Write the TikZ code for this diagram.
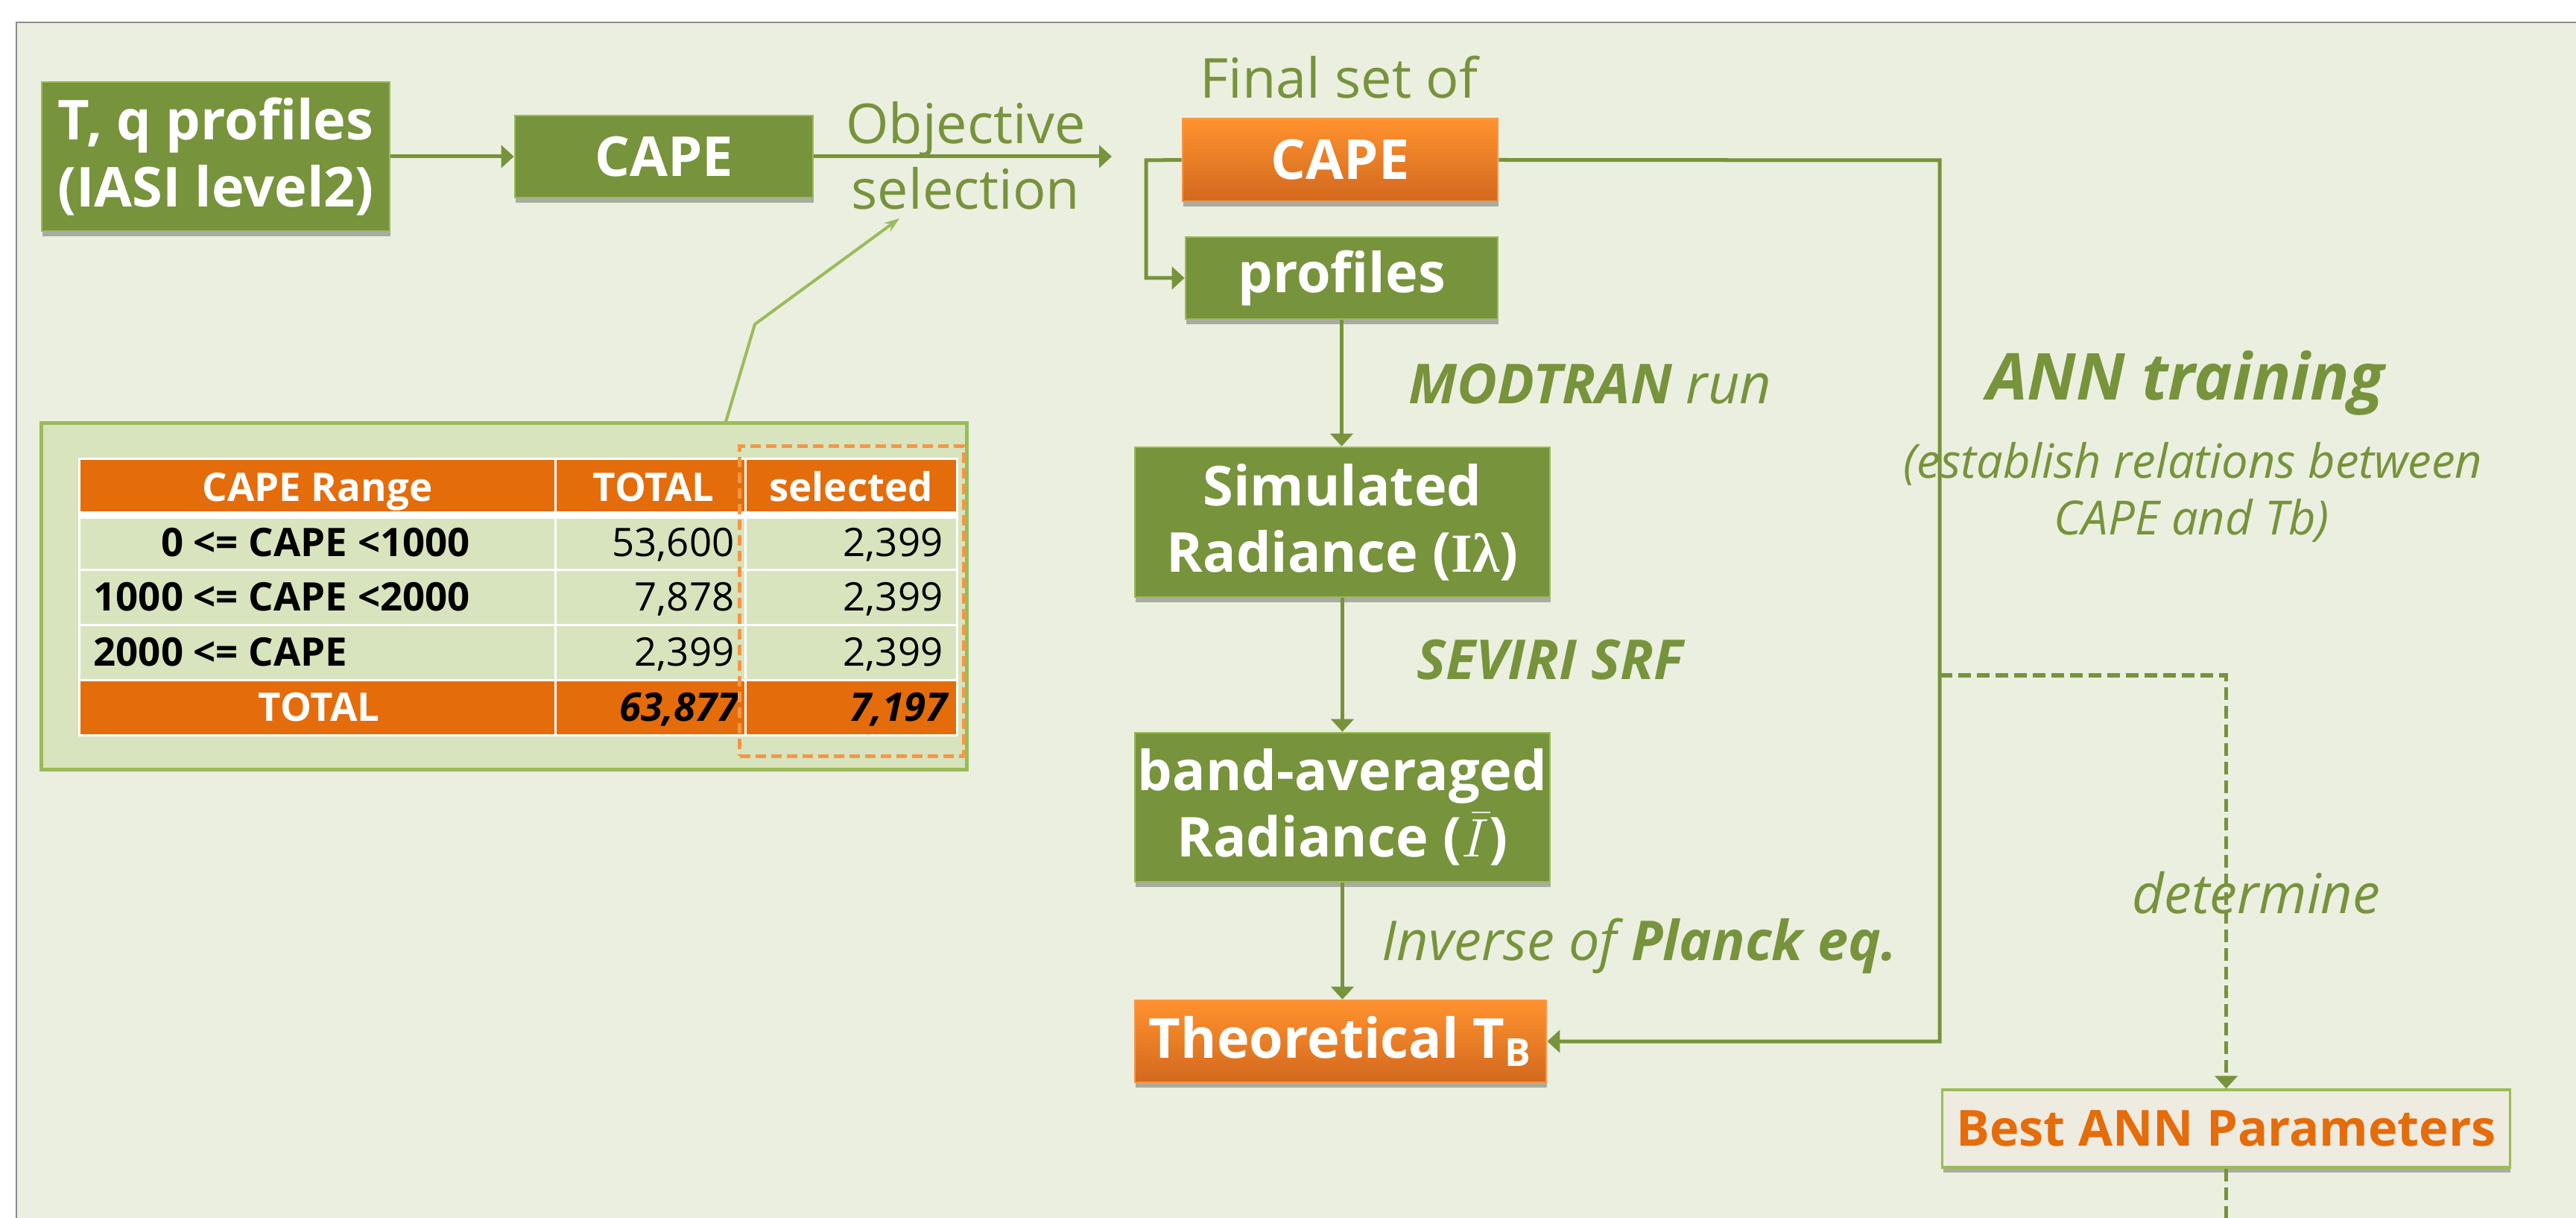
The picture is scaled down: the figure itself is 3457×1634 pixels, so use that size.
\documentclass[tikz,border=0pt]{standalone}
\usepackage{fontspec}
\setmainfont{Open Sans}
\newfontfamily\serifsym{Liberation Serif}
\usetikzlibrary{arrows.meta,shadows,calc}
\definecolor{bgc}{HTML}{EBEFDF}
\definecolor{olive}{HTML}{77933C}
\definecolor{oliveedge}{HTML}{9BBB59}
\definecolor{panelc}{HTML}{D7E4BD}
\definecolor{tblorange}{HTML}{E46C0A}
\definecolor{orangetop}{HTML}{FF922E}
\definecolor{orangebot}{HTML}{D2691E}
\definecolor{orangeedge}{HTML}{F79646}
\definecolor{beige}{HTML}{EEEBE0}
\definecolor{framegray}{HTML}{8C8C8C}
\begin{document}
\begin{tikzpicture}[x=0.01cm,y=-0.01cm,
  boxshadow/.style={drop shadow={shadow xshift=0.01cm,shadow yshift=-0.07cm,opacity=0.28,fill=black}},
  boxfont/.style={font=\fontsize{21}{25.4}\selectfont\bfseries},
  greenbox/.style={boxshadow,fill=olive,draw=oliveedge,line width=0.7pt,text=white,boxfont,align=center,inner sep=0pt},
  orangebox/.style={boxshadow,top color=orangetop,bottom color=orangebot,draw=orangeedge,line width=0.7pt,text=white,boxfont,align=center,inner sep=0pt},
  bestbox/.style={boxshadow,fill=beige,draw=oliveedge,line width=0.9pt,text=tblorange,font=\fontsize{19}{23}\selectfont\bfseries,inner sep=0pt},
  conn/.style={draw=olive,line width=0.05cm,-{Triangle[length=0.17cm,width=0.3cm]}},
  plainline/.style={draw=olive,line width=0.05cm},
  dconn/.style={draw=olive,line width=0.05cm,dash pattern=on 0.17cm off 0.08cm},
  pconn/.style={draw=oliveedge,line width=0.04cm,-{Stealth[length=0.2cm,width=0.14cm]}},
  lbl/.style={text=olive,anchor=base,inner sep=0pt,font=\fontsize{21}{25}\selectfont},
  tcell/.style={anchor=base,inner sep=0pt,font=\fontsize{15}{18}\selectfont},
  hdr/.style={tcell,text=white,font=\fontsize{15}{18}\selectfont\bfseries},
  rowlbl/.style={tcell,anchor=base west,font=\fontsize{15}{18}\selectfont\bfseries},
  num/.style={tcell,anchor=base east},
  totnum/.style={tcell,anchor=base east,font=\fontsize{15}{18}\selectfont\bfseries\itshape}
]
\useasboundingbox (0,0) rectangle (3457,1634);
% background and frame
\fill[white] (0,0) rectangle (3457,1634);
\fill[bgc] (22,30) rectangle (3457,1634);
\draw[framegray,line width=0.02cm] (22,1634) -- (22,30) -- (3457,30);

% main boxes
\node[greenbox,minimum width=4.67cm,minimum height=2.0cm] (tq) at (289.5,210) {T, q profiles\\(IASI level2)};
\node[greenbox,minimum width=4.0cm,minimum height=1.1cm] (cape1) at (891,210) {CAPE};
\node[orangebox,minimum width=4.23cm,minimum height=1.11cm] (cape2) at (1798.5,214.5) {CAPE};
\node[greenbox,minimum width=4.19cm,minimum height=1.1cm] (prof) at (1800.5,373) {profiles};
\node[greenbox,minimum width=5.57cm,minimum height=2.01cm] (sim) at (1801.5,700.5) {Simulated\\Radiance ({\serifsym\bfseries I}{\serifsym λ})};
\node[greenbox,minimum width=5.57cm,minimum height=2.0cm] (band) at (1801.5,1083) {band-averaged\\Radiance ($\bar{I}$)};
\node[orangebox,minimum width=5.52cm,minimum height=1.1cm] (tb) at (1799,1397) {Theoretical T\textsubscript{B}};
\node[bestbox,minimum width=7.61cm,minimum height=1.04cm] (best) at (2987.5,1514) {Best ANN Parameters};

% labels
\node[lbl] (obj1) at (1296,193) {Objective};
\node[lbl] (obj2) at (1296,281) {selection};
\node[lbl] (fin) at (1797,132) {Final set of};
\node[lbl] (modt) at (2134,542) {{\bfseries\itshape MODTRAN} {\itshape run}};
\node[lbl,font=\fontsize{24.7}{30}\selectfont\bfseries\itshape] (ann) at (2933,537) {ANN training};
\node[lbl,font=\fontsize{18}{22}\selectfont\itshape] (est1) at (2943,642) {(establish relations between};
\node[lbl,font=\fontsize{18}{22}\selectfont\itshape] (est2) at (2941,718) {CAPE and Tb)};
\node[lbl,font=\fontsize{21}{25}\selectfont\bfseries\itshape] (sev) at (2080,911) {SEVIRI SRF};
\node[lbl] (inv) at (2200,1288) {{\itshape Inverse of} {\bfseries\itshape Planck eq.}};
\node[lbl,font=\fontsize{21}{25}\selectfont\itshape] (det) at (3028,1225) {determine};

% connectors
\coordinate (objend) at (1492,210);
\coordinate (lbend) at (1538,215);
\coordinate (rbend) at (2603,215);
\coordinate (dstart) at (2603,906);
\coordinate (dend) at (2987.5,1634);
\draw[conn] (tq.east) -- (cape1.west);
\draw[conn] (cape1.east) -- (objend);
\draw[conn] (cape2.west) -- (lbend) |- (prof.west);
\draw[conn] (cape2.east) -- (rbend) |- (tb.east);
\draw[conn] (prof.south) -- (prof.south |- sim.north);
\draw[conn] (sim.south) -- (sim.south |- band.north);
\draw[conn] (band.south) -- (band.south |- tb.north);
\draw[dconn,-{Triangle[length=0.17cm,width=0.3cm]}] (dstart) -| (best.north);
\draw[dconn] (best.south) -- (dend);

% table panel
\node[draw=oliveedge,fill=panelc,line width=0.05cm,minimum width=12.41cm,minimum height=4.64cm,inner sep=0pt] (panel) at (676.5,800) {};
\coordinate (pbend) at (1013,435);
\coordinate (seltip) at (1207,293);
\draw[pconn] ($(panel.north west)+(921,0)$) -- (pbend) -- (seltip);

\fill[white] (105,614) rectangle (1286,988);
\foreach \xa/\xb in {108/744,747/999,1002/1283}{
  \fill[tblorange] (\xa,617) rectangle (\xb,686);
  \fill[panelc] (\xa,696) rectangle (\xb,763);
  \fill[panelc] (\xa,766) rectangle (\xb,837);
  \fill[panelc] (\xa,840) rectangle (\xb,911);
  \fill[tblorange] (\xa,914) rectangle (\xb,985);
}
\node[hdr] (h1) at (426,673) {CAPE Range};
\node[hdr] (h2) at (877,673) {TOTAL};
\node[hdr] (h3) at (1142,673) {selected};
\node[rowlbl] (r1) at (125,747) {\phantom{100}0 <= CAPE <1000};
\node[num] (r1b) at (986,747) {53,600};
\node[num] (r1c) at (1266,747) {2,399};
\node[rowlbl] (r2) at (125,820) {1000 <= CAPE <2000};
\node[num] (r2b) at (986,820) {7,878};
\node[num] (r2c) at (1266,820) {2,399};
\node[rowlbl] (r3) at (125,893) {2000 <= CAPE};
\node[num] (r3b) at (986,893) {2,399};
\node[num] (r3c) at (1266,893) {2,399};
\node[hdr] (t1) at (428,967) {TOTAL};
\node[totnum] (t2) at (992,967) {63,877};
\node[totnum] (t3) at (1272,967) {7,197};
\node[draw=orangeedge,line width=0.05cm,dash pattern=on 0.14cm off 0.07cm,minimum width=3.0cm,minimum height=4.15cm,inner sep=0pt] (selbox) at (1143,806.5) {};
\end{tikzpicture}
\end{document}
